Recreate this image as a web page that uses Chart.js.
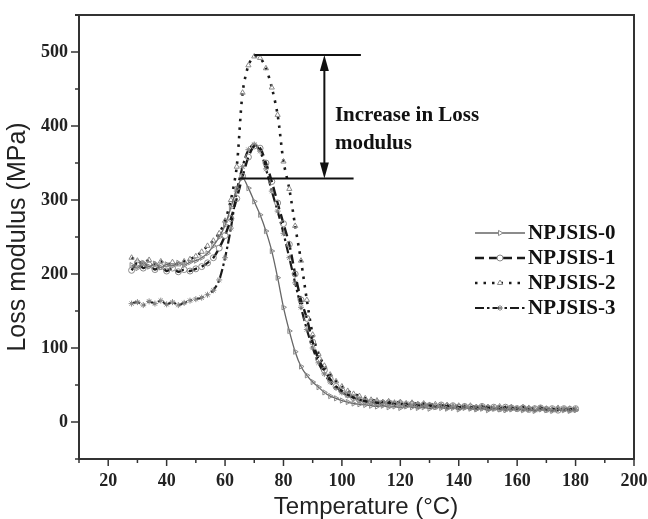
<!DOCTYPE html>
<html>
<head>
<meta charset="utf-8">
<title>Loss modulus vs temperature</title>
<script src="https://cdn.jsdelivr.net/npm/chart.js@4.4.0/dist/chart.umd.min.js"></script>
<style>
  html, body { margin: 0; padding: 0; background: #fff; }
</style>
</head>
<body>
<canvas id="chartLoss" width="648" height="519"></canvas>
<script>
// temperature steps (°C), shared by all four samples
const temps = [
  28, 30, 32, 34, 36, 38, 40, 42, 44, 46,
  48, 50, 52, 54, 56, 58, 60, 62, 64, 66,
  68, 70, 72, 74, 76, 78, 80, 82, 84, 86,
  88, 90, 92, 94, 96, 98, 100, 102, 104, 106,
  108, 110, 112, 114, 116, 118, 120, 122, 124, 126,
  128, 130, 132, 134, 136, 138, 140, 142, 144, 146,
  148, 150, 152, 154, 156, 158, 160, 162, 164, 166,
  168, 170, 172, 174, 176, 178, 180
];

// loss modulus (MPa)
const npjsis0 = [
  212, 208, 215, 210, 214, 209, 213, 211, 215, 212,
  216, 218, 222, 228, 238, 250, 266, 290, 315, 330,
  316, 298, 280, 258, 231, 195, 155, 123, 95, 75,
  63, 54, 47, 40, 35, 32, 29, 27, 25, 24,
  23, 22, 21, 22, 20, 21, 19, 21, 20, 19,
  20, 18, 20, 19, 18, 19, 17, 19, 18, 17,
  18, 16, 18, 17, 16, 17, 18, 16, 17, 15,
  17, 16, 15, 17, 16, 15, 16
];
const npjsis1 = [
  205, 215, 208, 212, 206, 210, 204, 208, 203, 206,
  204, 207, 210, 215, 222, 235, 252, 275, 302, 332,
  358, 373, 370, 350, 325, 296, 268, 240, 200, 165,
  140, 108, 85, 70, 58, 48, 42, 37, 33, 30,
  28, 27, 26, 25, 26, 24, 25, 23, 24, 22,
  23, 22, 21, 23, 21, 22, 20, 21, 20, 19,
  21, 19, 20, 18, 20, 19, 18, 19, 17, 18,
  19, 17, 18, 16, 18, 17, 18
];
const npjsis2 = [
  222, 218, 214, 219, 213, 217, 212, 216, 213, 217,
  220, 224, 230, 238, 245, 255, 272, 300, 345, 445,
  482, 494, 492, 478, 452, 415, 352, 315, 265, 218,
  165, 118, 92, 76, 64, 55, 48, 42, 38, 35,
  32, 30, 29, 27, 28, 26, 27, 25, 26, 24,
  25, 23, 24, 22, 23, 21, 22, 21, 22, 20,
  21, 20, 19, 21, 19, 20, 18, 20, 19, 18,
  19, 18, 17, 19, 17, 18, 17
];
const npjsis3 = [
  160, 162, 158, 163, 160, 164, 159, 162, 158, 161,
  164, 166, 168, 172, 178, 192, 222, 262, 312, 345,
  368, 375, 366, 342, 312, 285, 255, 222, 188, 155,
  125, 100, 80, 65, 54, 46, 40, 36, 33, 30,
  28, 27, 26, 27, 25, 26, 24, 25, 23, 24,
  22, 23, 21, 22, 20, 21, 20, 21, 19, 20,
  19, 20, 18, 19, 17, 19, 18, 17, 18, 16,
  18, 17, 16, 18, 17, 16, 17
];

const seriesNames = ['NPJSIS-0', 'NPJSIS-1', 'NPJSIS-2', 'NPJSIS-3'];
const xTickLabels = [20, 40, 60, 80, 100, 120, 140, 160, 180, 200];
const yTickLabels = [0, 100, 200, 300, 400, 500];

// the "increase" bracket: loss modulus of NPJSIS-0 peak vs NPJSIS-2 peak
const lowPeak = 329;
const highPeak = 496;

const serif = '"Liberation Serif", "Times New Roman", serif';
const sans = '"Liberation Sans", Arial, sans-serif';

const toXY = vals => vals.map((v, i) => ({ x: temps[i], y: v }));

const styles = [
  { borderColor: '#666', borderWidth: 1.3, borderDash: [], pointStyle: 'triangle', pointRotation: 90 },
  { borderColor: '#1a1a1a', borderWidth: 2.4, borderDash: [9, 5], pointStyle: 'circle', pointRotation: 0 },
  { borderColor: '#1a1a1a', borderWidth: 2.6, borderDash: [2.5, 6], pointStyle: 'triangle', pointRotation: 0 },
  { borderColor: '#1a1a1a', borderWidth: 2.2, borderDash: [9, 3, 2.5, 3], pointStyle: 'star', pointRotation: 0 }
];

const datasets = [npjsis0, npjsis1, npjsis2, npjsis3].map((vals, i) => ({
  label: seriesNames[i],
  data: toXY(vals),
  borderColor: styles[i].borderColor,
  borderWidth: styles[i].borderWidth,
  borderDash: styles[i].borderDash,
  pointStyle: styles[i].pointStyle,
  pointRotation: styles[i].pointRotation,
  pointRadius: 3,
  pointBorderWidth: 1,
  pointBorderColor: '#8a8a8a',
  pointBackgroundColor: 'rgba(255,255,255,0)',
  tension: 0.3,
  fill: false
}));

// frame, tick marks, x title, legend and the bracket annotation
const decorations = {
  id: 'decorations',
  afterDraw(chart) {
    const { ctx, chartArea: a, scales: { x, y } } = chart;
    ctx.save();

    // top and right frame
    ctx.strokeStyle = '#333';
    ctx.lineWidth = 2;
    ctx.beginPath();
    ctx.moveTo(a.left - 4, a.top);
    ctx.lineTo(a.right, a.top);
    ctx.lineTo(a.right, a.bottom);
    ctx.stroke();

    // tick marks, long on labelled values
    ctx.lineWidth = 1.5;
    x.ticks.forEach(t => {
      const px = x.getPixelForValue(t.value);
      const len = xTickLabels.includes(t.value) ? 7 : 4;
      ctx.beginPath();
      ctx.moveTo(px, a.bottom);
      ctx.lineTo(px, a.bottom + len);
      ctx.stroke();
    });
    y.ticks.forEach(t => {
      const py = y.getPixelForValue(t.value);
      const len = yTickLabels.includes(t.value) ? 8 : 4;
      ctx.beginPath();
      ctx.moveTo(a.left, py);
      ctx.lineTo(a.left - len, py);
      ctx.stroke();
    });

    // x axis title, set a little right of centre
    ctx.fillStyle = '#222';
    ctx.font = '24px ' + sans;
    ctx.textAlign = 'center';
    ctx.textBaseline = 'alphabetic';
    ctx.fillText('Temperature (°C)', 366, 514);

    // bracket between the two peaks
    ctx.strokeStyle = '#111';
    ctx.fillStyle = '#111';
    ctx.lineWidth = 2;
    const yHi = y.getPixelForValue(highPeak);
    const yLo = y.getPixelForValue(lowPeak);
    ctx.beginPath();
    ctx.moveTo(x.getPixelForValue(70), yHi);
    ctx.lineTo(x.getPixelForValue(106.5), yHi);
    ctx.moveTo(x.getPixelForValue(65), yLo);
    ctx.lineTo(x.getPixelForValue(104), yLo);
    ctx.stroke();

    const ax = x.getPixelForValue(94);
    ctx.beginPath();
    ctx.moveTo(ax, yHi + 12);
    ctx.lineTo(ax, yLo - 12);
    ctx.stroke();
    [[yHi, 1], [yLo, -1]].forEach(([py, dir]) => {
      ctx.beginPath();
      ctx.moveTo(ax, py);
      ctx.lineTo(ax - 4.5, py + dir * 16);
      ctx.lineTo(ax + 4.5, py + dir * 16);
      ctx.closePath();
      ctx.fill();
    });

    ctx.font = 'bold 21px ' + serif;
    ctx.textAlign = 'left';
    const tx = x.getPixelForValue(97.6);
    ctx.fillText('Increase in Loss', tx, y.getPixelForValue(407));
    ctx.fillText('modulus', tx, y.getPixelForValue(369));

    // legend
    chart.data.datasets.forEach((ds, i) => {
      const ly = 233 + i * 25;
      ctx.strokeStyle = ds.borderColor;
      ctx.lineWidth = ds.borderWidth;
      ctx.setLineDash(ds.borderDash);
      ctx.beginPath();
      ctx.moveTo(475, ly);
      ctx.lineTo(525, ly);
      ctx.stroke();
      ctx.setLineDash([]);
      ctx.strokeStyle = ds.pointBorderColor;
      ctx.fillStyle = '#fff';
      ctx.lineWidth = ds.pointBorderWidth;
      Chart.helpers.drawPoint(ctx, {
        pointStyle: ds.pointStyle, rotation: ds.pointRotation,
        radius: ds.pointRadius, borderWidth: ds.pointBorderWidth
      }, 500, ly);
      ctx.fillStyle = '#111';
      ctx.font = 'bold 21px ' + serif;
      ctx.textBaseline = 'middle';
      ctx.fillText(ds.label, 528, ly + 1);
    });

    ctx.restore();
  }
};

new Chart(document.getElementById('chartLoss'), {
  type: 'line',
  data: { datasets },
  plugins: [decorations],
  options: {
    responsive: false,
    animation: false,
    devicePixelRatio: 1,
    layout: { padding: { top: 15, right: 14, left: 0, bottom: 0 } },
    plugins: { legend: { display: false }, tooltip: { enabled: false } },
    scales: {
      x: {
        type: 'linear',
        min: 10, max: 200,
        afterFit: s => { s.height = 60; s.paddingLeft = 0; s.paddingRight = 0; },
        grid: { display: false, drawTicks: false },
        border: { display: true, color: '#333', width: 2 },
        ticks: {
          stepSize: 10, autoSkip: false, maxRotation: 0, padding: 12,
          color: '#222', font: { family: serif, size: 18, weight: 'bold' },
          callback: v => xTickLabels.includes(v) ? v : ''
        }
      },
      y: {
        min: -50, max: 550,
        afterFit: s => { s.width = 79; s.paddingTop = 0; s.paddingBottom = 0; },
        grid: { display: false, drawTicks: false },
        border: { display: true, color: '#333', width: 2 },
        ticks: {
          stepSize: 50, autoSkip: false, padding: 11,
          color: '#222', font: { family: serif, size: 18, weight: 'bold' },
          callback: v => yTickLabels.includes(v) ? v : ''
        },
        title: {
          display: true, text: 'Loss modulus (MPa)', color: '#222',
          font: { family: sans, size: 25 }, padding: { top: 3, bottom: 0 }
        }
      }
    }
  }
});
</script>
</body>
</html>
